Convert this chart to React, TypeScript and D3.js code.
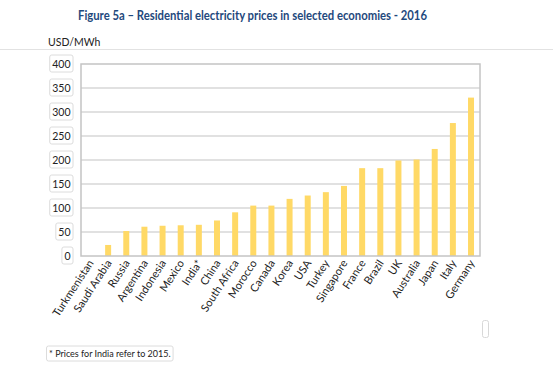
import React, { useEffect, useRef } from "react";
import * as d3 from "d3";

const categories = [
  "Turkmenistan", "Saudi Arabia", "Russia", "Argentina", "Indonesia", "Mexico", "India*",
  "China", "South Africa", "Morocco", "Canada", "Korea", "USA", "Turkey", "Singapore",
  "France", "Brazil", "UK", "Australia", "Japan", "Italy", "Germany",
];
const prices = [0, 23, 52, 61, 63, 64, 65, 74, 91, 105, 105, 119, 126, 133, 146, 183, 183, 199, 201, 223, 277, 330];
const yTicks = [0, 50, 100, 150, 200, 250, 300, 350, 400];

const title = "Figure 5a \u2013 Residential electricity prices in selected economies - 2016";
const unitLabel = "USD/MWh";
const footnote = "* Prices for India refer to 2015.";

const W = 553;
const H = 377;
const FONT = "Lato, 'Open Sans', sans-serif";

export default function App() {
  const ref = useRef<SVGSVGElement | null>(null);

  useEffect(() => {
    const svg = d3.select(ref.current);
    svg.selectAll("*").remove();

    const left = 81, right = 480, top = 64, bottom = 256;
    const x = d3.scaleBand<string>().domain(categories).range([left, right]).paddingInner(0.67).paddingOuter(0.33);
    const y = d3.scaleLinear().domain([0, 400]).range([bottom, top]);

    svg.append("rect").attr("width", W).attr("height", H).attr("fill", "#fff");

    // title
    svg.append("text")
      .attr("x", 252.5).attr("y", 20)
      .attr("text-anchor", "middle")
      .attr("font-family", FONT).attr("font-weight", "bold").attr("font-size", 12.5)
      .attr("fill", "#1F497D")
      .attr("textLength", 349).attr("lengthAdjust", "spacingAndGlyphs")
      .text(title);

    svg.append("text")
      .attr("x", 48).attr("y", 46)
      .attr("font-family", FONT).attr("font-size", 10.5)
      .attr("fill", "#222")
      .text(unitLabel);

    svg.append("line")
      .attr("x1", 0).attr("x2", W).attr("y1", 49.5).attr("y2", 49.5)
      .attr("stroke", "#e2e2e2").attr("stroke-width", 1);

    // gridlines
    svg.append("g").selectAll("line").data(yTicks.slice(1, -1)).join("line")
      .attr("x1", left).attr("x2", right)
      .attr("y1", (d) => y(d)).attr("y2", (d) => y(d))
      .attr("stroke", "#c4c4c4").attr("stroke-width", 1.2);

    // bars
    svg.append("g").selectAll("rect").data(prices).join("rect")
      .attr("x", (_, i) => x(categories[i]) as number)
      .attr("width", x.bandwidth())
      .attr("y", (d) => y(d))
      .attr("height", (d) => bottom - y(d))
      .attr("fill", "#FFD966");

    // frame
    svg.append("rect")
      .attr("x", left).attr("y", top).attr("width", right - left).attr("height", bottom - top)
      .attr("fill", "none").attr("stroke", "#c4c4c4").attr("stroke-width", 1.5);

    // y tick labels in boxes
    const tg = svg.append("g");
    yTicks.forEach((t) => {
      const g = tg.append("g");
      const txt = g.append("text")
        .attr("x", 70.5).attr("y", y(t) + 3.8)
        .attr("text-anchor", "end")
        .attr("font-family", FONT).attr("font-size", 10.5)
        .attr("fill", "#222")
        .text(String(t));
      const w = (txt.node() as SVGTextElement).getComputedTextLength();
      g.insert("rect", "text")
        .attr("x", 70.5 - w - 2.5).attr("y", y(t) - 9)
        .attr("width", w + 5).attr("height", 17)
        .attr("rx", 2)
        .attr("fill", "#fff").attr("stroke", "#dcdcdc").attr("stroke-width", 1);
    });

    // x labels
    svg.append("g").selectAll("text").data(categories).join("text")
      .attr("transform", (d) => `translate(${(x(d) as number) + x.bandwidth() / 2 + 4},${bottom + 7}) rotate(-57)`)
      .attr("text-anchor", "end")
      .attr("font-family", FONT).attr("font-size", 11)
      .attr("fill", "#222")
      .text((d) => d);

    // footnote
    const fg = svg.append("g");
    const ft = fg.append("text")
      .attr("x", 49).attr("y", 356.5)
      .attr("font-family", FONT).attr("font-size", 9)
      .attr("fill", "#222")
      .text(footnote);
    const fw = (ft.node() as SVGTextElement).getComputedTextLength();
    fg.insert("rect", "text")
      .attr("x", 46.5).attr("y", 346).attr("width", fw + 5).attr("height", 15)
      .attr("rx", 2).attr("fill", "#fff").attr("stroke", "#dcdcdc");

    // small placeholder box
    svg.append("rect")
      .attr("x", 482.5).attr("y", 320.5).attr("width", 6).attr("height", 17)
      .attr("rx", 2).attr("fill", "#fff").attr("stroke", "#d8d8d8");
  }, []);

  return (
    <svg ref={ref} width={W} height={H} style={{ position: "absolute", left: 0, top: 0 }} />
  );
}
